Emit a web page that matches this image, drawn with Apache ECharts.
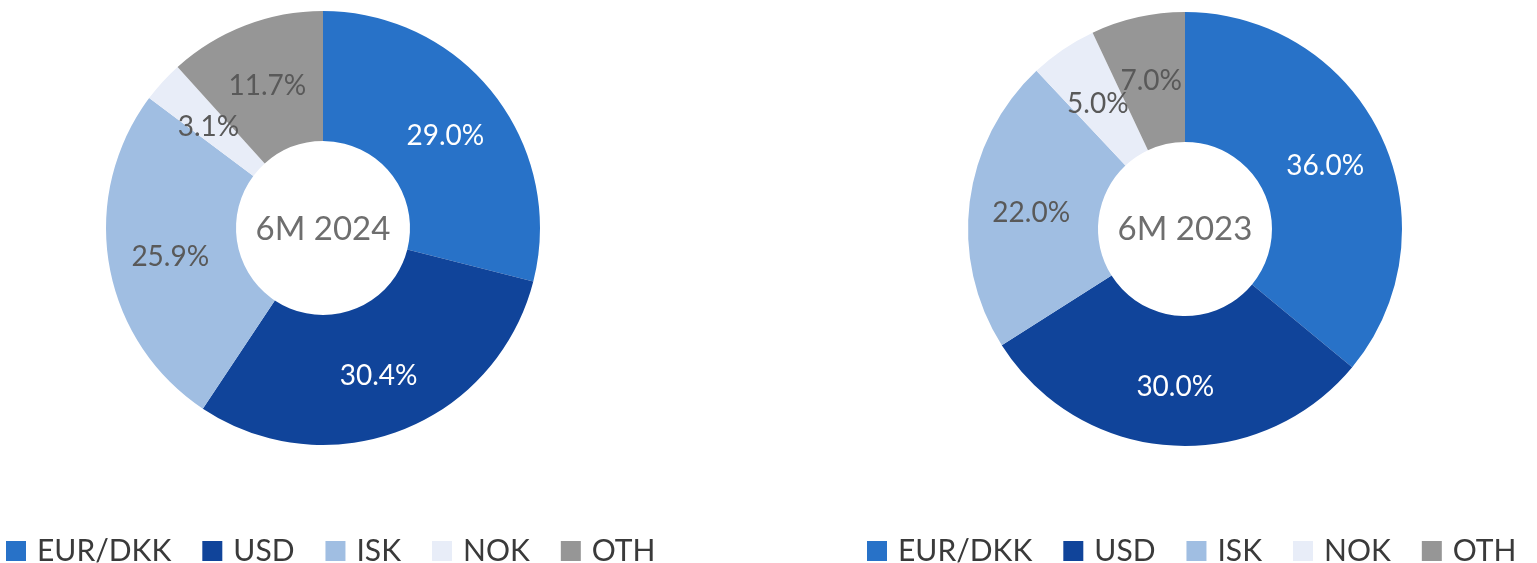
<!DOCTYPE html>
<html>
<head>
<meta charset="utf-8">
<script src="https://cdn.jsdelivr.net/npm/echarts@6/dist/echarts.min.js"></script>
<style>
    html, body { margin: 0; padding: 0; background: #fff; }
    #currencyPie { width: 1537px; height: 563px; }
</style>
</head>
<body>
<div id="currencyPie"></div>
<script>
    // 币种占比数据
    const categories = ['EUR/DKK', 'USD', 'ISK', 'NOK', 'OTH'];
    const periods = ['6M 2024', '6M 2023'];
    const share2024 = [29.0, 30.4, 25.9, 3.1, 11.7];
    const share2023 = [36.0, 30.0, 22.0, 5.0, 7.0];

    const sliceColors = ['#2872C8', '#10449A', '#A0BEE2', '#E8EDF8', '#969696'];
    const labelInk = ['#ffffff', '#ffffff', '#595959', '#595959', '#595959'];
    const font = 'Lato, "Open Sans", sans-serif';

    function buildSeries(name, values, cx, cy) {
        return {
            name: name,
            type: 'pie',
            center: [cx, cy],
            radius: [87, 217],
            startAngle: 90,
            clockwise: true,
            avoidLabelOverlap: false,
            silent: true,
            labelLayout: { hideOverlap: false },
            label: {
                show: true,
                position: 'inside',
                offset: [0, 3],
                fontFamily: font,
                fontSize: 28,
                formatter: function (p) {
                    return p.value.toFixed(1) + '%';
                }
            },
            labelLine: { show: false },
            data: values.map(function (v, i) {
                return {
                    name: categories[i],
                    value: v,
                    itemStyle: { color: sliceColors[i] },
                    label: { color: labelInk[i] }
                };
            })
        };
    }

    function buildLegend(x) {
        return {
            data: categories,
            left: x,
            top: 531,
            orient: 'horizontal',
            icon: 'rect',
            itemWidth: 20,
            itemHeight: 20,
            itemGap: 31,
            selectedMode: false,
            textStyle: {
                fontFamily: font,
                fontSize: 30,
                color: '#3a3a3a',
                padding: [0, 0, 0, 6]
            }
        };
    }

    function centerText(text, x, y) {
        return {
            type: 'text',
            x: x,
            y: y,
            style: {
                text: text,
                fill: '#6e6e6e',
                font: '33px ' + font,
                textAlign: 'center',
                textVerticalAlign: 'middle'
            }
        };
    }

    const option = {
        animation: false,
        color: sliceColors,
        legend: [buildLegend(1), buildLegend(862)],
        graphic: [
            centerText(periods[0], 323, 229),
            centerText(periods[1], 1185, 229)
        ],
        series: [
            buildSeries(periods[0], share2024, 323, 228),
            buildSeries(periods[1], share2023, 1185, 229)
        ]
    };

    const myChart = echarts.init(document.getElementById('currencyPie'));
    myChart.setOption(option);
</script>
</body>
</html>
